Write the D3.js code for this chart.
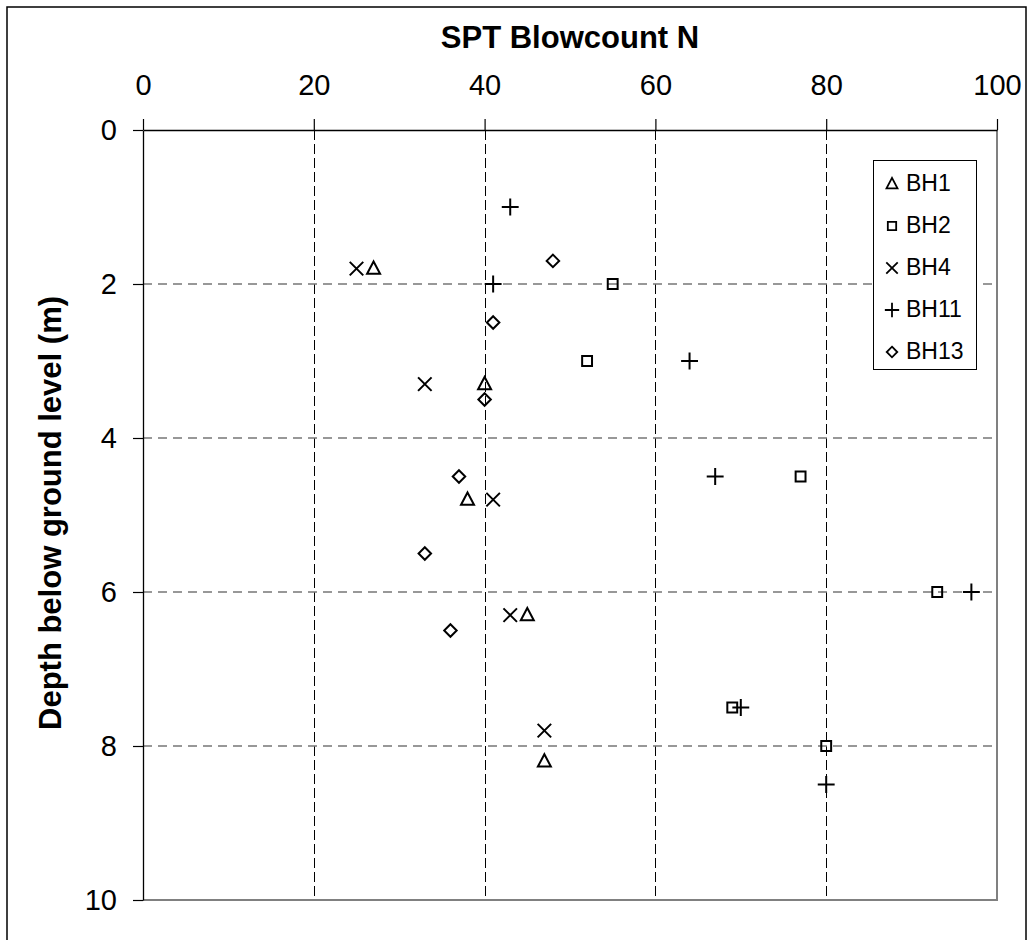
<!DOCTYPE html>
<html>
<head>
<meta charset="utf-8">
<script src="https://cdn.jsdelivr.net/npm/d3@7"></script>
<style>
  html, body { margin: 0; padding: 0; background: #fff; }
  svg text { font-family: "Liberation Sans", Arial, sans-serif; fill: #000; }
</style>
</head>
<body>
<div id="chart"></div>
<script>
// SPT blowcount vs depth, one pair of arrays per borehole
const bh1N = [27, 40, 38, 45, 47];
const bh1Depth = [1.8, 3.3, 4.8, 6.3, 8.2];
const bh2N = [55, 52, 77, 93, 69, 80];
const bh2Depth = [2.0, 3.0, 4.5, 6.0, 7.5, 8.0];
const bh4N = [25, 33, 41, 43, 47];
const bh4Depth = [1.8, 3.3, 4.8, 6.3, 7.8];
const bh11N = [43, 41, 64, 67, 97, 70, 80];
const bh11Depth = [1.0, 2.0, 3.0, 4.5, 6.0, 7.5, 8.5];
const bh13N = [48, 41, 40, 37, 33, 36];
const bh13Depth = [1.7, 2.5, 3.5, 4.5, 5.5, 6.5];

const seriesNames = ['BH1', 'BH2', 'BH4', 'BH11', 'BH13'];
const xTicks = [0, 20, 40, 60, 80, 100];
const yTicks = [0, 2, 4, 6, 8, 10];

const seriesList = [
  { name: seriesNames[0], shape: 'triangle', n: bh1N, depth: bh1Depth },
  { name: seriesNames[1], shape: 'square', n: bh2N, depth: bh2Depth },
  { name: seriesNames[2], shape: 'cross', n: bh4N, depth: bh4Depth },
  { name: seriesNames[3], shape: 'plus', n: bh11N, depth: bh11Depth },
  { name: seriesNames[4], shape: 'diamond', n: bh13N, depth: bh13Depth }
];

const W = 1029, H = 940;
const plot = { left: 143, top: 130, right: 997, bottom: 900 };

const svg = d3.select('#chart').append('svg')
  .attr('width', W)
  .attr('height', H);

// outer chart frame
svg.append('rect')
  .attr('x', 7).attr('y', 7)
  .attr('width', 1019).attr('height', 940)
  .attr('fill', '#fff')
  .attr('stroke', '#000')
  .attr('stroke-width', 1.5);

const x = d3.scaleLinear().domain([0, 100]).range([plot.left, plot.right]);
const y = d3.scaleLinear().domain([0, 10]).range([plot.top, plot.bottom]);

// gridlines
svg.append('g')
  .selectAll('line')
  .data(xTicks.filter(d => d > 0 && d < 100))
  .join('line')
  .attr('x1', d => Math.round(x(d)) + 0.5)
  .attr('x2', d => Math.round(x(d)) + 0.5)
  .attr('y1', plot.top)
  .attr('y2', plot.bottom)
  .attr('stroke', '#000')
  .attr('stroke-width', 1)
  .attr('stroke-dasharray', '10,4');

svg.append('g')
  .selectAll('line')
  .data(yTicks.filter(d => d > 0 && d < 10))
  .join('line')
  .attr('x1', plot.left)
  .attr('x2', plot.right)
  .attr('y1', d => y(d))
  .attr('y2', d => y(d))
  .attr('stroke', '#777')
  .attr('stroke-width', 1.6)
  .attr('stroke-dasharray', '9,6');

// plot area border (right / bottom)
svg.append('path')
  .attr('d', `M${plot.right},${plot.top}V${plot.bottom}H${plot.left}`)
  .attr('fill', 'none')
  .attr('stroke', '#808080')
  .attr('stroke-width', 2);

// axes
const xAxis = svg.append('g')
  .attr('transform', `translate(0,${plot.top})`)
  .call(d3.axisTop(x).tickValues(xTicks).tickSize(11).tickSizeOuter(0).tickPadding(24));

const yAxis = svg.append('g')
  .attr('transform', `translate(${plot.left},0)`)
  .call(d3.axisLeft(y).tickValues(yTicks).tickSize(10).tickSizeOuter(0).tickPadding(16));

[xAxis, yAxis].forEach(ax => {
  ax.select('.domain').attr('stroke', '#000').attr('stroke-width', 1.3);
  ax.selectAll('.tick line').attr('stroke', '#000').attr('stroke-width', 1.2);
  ax.selectAll('.tick text')
    .attr('font-family', '"Liberation Sans", Arial, sans-serif')
    .attr('font-size', 29)
    .attr('fill', '#000');
});

// axis titles
svg.append('text')
  .attr('x', (plot.left + plot.right) / 2)
  .attr('y', 48)
  .attr('text-anchor', 'middle')
  .attr('font-size', 31)
  .attr('font-weight', 'bold')
  .text('SPT Blowcount N');

svg.append('text')
  .attr('transform', 'translate(61,513) rotate(-90)')
  .attr('text-anchor', 'middle')
  .attr('font-size', 31)
  .attr('font-weight', 'bold')
  .text('Depth below ground level (m)');

// marker shapes
const markerPath = (shape, s) => {
  switch (shape) {
    case 'triangle':
      return `M0,${-s * 0.55}L${s * 0.5},${s * 0.4}L${-s * 0.5},${s * 0.4}Z`;
    case 'square':
      return `M${-s * 0.38},${-s * 0.38}h${s * 0.76}v${s * 0.76}h${-s * 0.76}Z`;
    case 'cross':
      return `M${-s * 0.52},${-s * 0.52}L${s * 0.52},${s * 0.52}M${s * 0.52},${-s * 0.52}L${-s * 0.52},${s * 0.52}`;
    case 'plus':
      return `M${-s * 0.65},0H${s * 0.65}M0,${-s * 0.65}V${s * 0.65}`;
    case 'diamond':
      return `M0,${-s * 0.48}L${s * 0.48},0L0,${s * 0.48}L${-s * 0.48},0Z`;
  }
};

const points = svg.append('g');
seriesList.forEach(sr => {
  const rows = sr.n.map((v, i) => ({ n: v, depth: sr.depth[i] }));
  points.append('g')
    .selectAll('path')
    .data(rows)
    .join('path')
    .attr('transform', d => `translate(${x(d.n)},${y(d.depth)})`)
    .attr('d', markerPath(sr.shape, 13))
    .attr('fill', 'none')
    .attr('stroke', '#000')
    .attr('stroke-width', 2);
});

// legend
const legend = svg.append('g');
legend.append('rect')
  .attr('x', 873.5).attr('y', 160.5)
  .attr('width', 103).attr('height', 209)
  .attr('fill', '#fff')
  .attr('stroke', '#000')
  .attr('stroke-width', 1);

const rowY = d3.scalePoint().domain(seriesNames).range([183, 351]);

const items = legend.selectAll('g.item')
  .data(seriesList)
  .join('g')
  .attr('class', 'item')
  .attr('transform', d => `translate(0,${rowY(d.name)})`);

items.append('path')
  .attr('transform', 'translate(892,1)')
  .attr('d', d => markerPath(d.shape, 11))
  .attr('fill', 'none')
  .attr('stroke', '#000')
  .attr('stroke-width', 1.8);

items.append('text')
  .attr('x', 906)
  .attr('dy', '0.36em')
  .attr('font-size', 23)
  .text(d => d.name);
</script>
</body>
</html>
